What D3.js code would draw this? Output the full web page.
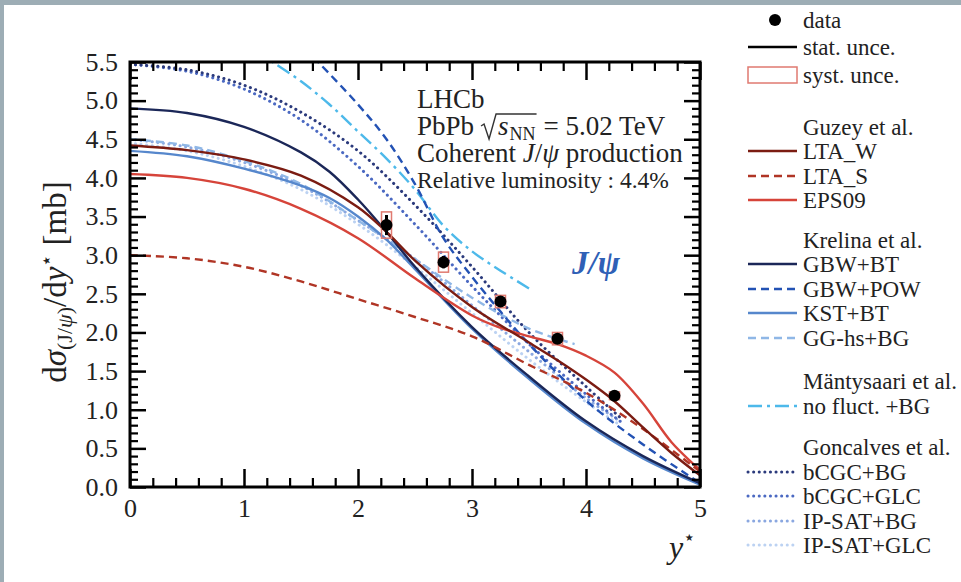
<!DOCTYPE html>
<html>
<head>
<meta charset="utf-8">
<script src="https://cdn.jsdelivr.net/npm/d3@7"></script>
<style>
  body { margin: 0; background: #fff; }
  text { font-family: "Liberation Serif", "Times New Roman", serif; fill: #222; }
</style>
</head>
<body>
<svg width="961" height="582"></svg>
<script>
// LHCb coherent J/psi in PbPb, dsigma/dy* vs y*

const dataX    = [2.25, 2.75, 3.25, 3.75, 4.25];
const dataY    = [3.39, 2.91, 2.40, 1.92, 1.18];
const statErr  = [0.13, 0.08, 0.06, 0.05, 0.05];
const systErr  = [0.17, 0.13, 0.08, 0.08, 0.05];

// model curves, [y*, dsigma/dy*] pairs
const ltaW    = [[0,4.42],[0.5,4.36],[1,4.24],[1.5,4.03],[2,3.62],[2.25,3.3],[2.5,2.93],[3,2.33],[3.5,1.87],[3.75,1.64],[4,1.39],[4.25,1.11],[4.5,0.77],[4.75,0.44],[5,0.15]];
const ltaS    = [[0,3.0],[0.5,2.96],[1,2.85],[1.5,2.66],[2,2.43],[2.5,2.2],[3,1.95],[3.5,1.58],[4,1.22],[4.5,0.75],[5,0.2]];
const eps09   = [[0,4.05],[0.5,4.0],[1,3.86],[1.5,3.6],[2,3.22],[2.5,2.7],[3,2.22],[3.25,2.06],[3.5,1.95],[3.75,1.85],[4,1.7],[4.25,1.48],[4.5,1.08],[4.75,0.58],[5,0.22]];
const gbwBT   = [[0,4.9],[0.5,4.84],[1,4.66],[1.5,4.33],[1.75,4.08],[2,3.72],[2.25,3.3],[2.5,2.85],[3,2.07],[3.5,1.43],[4,0.85],[4.5,0.4],[5,0.05]];
const gbwPOW  = [[1.45,5.8],[1.65,5.5],[2,4.95],[2.25,4.5],[2.5,3.92],[2.75,3.22],[3,2.72],[3.25,2.27],[3.5,1.85],[4,1.12],[4.5,0.55],[5,0.05]];
const kstBT   = [[0,4.35],[0.5,4.28],[1,4.12],[1.5,3.9],[1.75,3.74],[2,3.5],[2.25,3.2],[2.5,2.82],[3,2.05],[3.5,1.4],[4,0.82],[4.5,0.37],[5,0.03]];
const gghsBG  = [[0,4.5],[0.5,4.42],[1,4.22],[1.5,3.92],[2,3.45],[2.5,2.95],[3,2.45],[3.5,2.05],[3.9,1.85]];
const noFluct = [[1.1,5.65],[1.25,5.5],[1.5,5.25],[1.75,4.95],[2,4.6],[2.25,4.25],[2.5,3.85],[2.75,3.38],[3,3.05],[3.25,2.8],[3.5,2.57]];
const bcgcBG  = [[0,5.47],[0.5,5.4],[1,5.2],[1.5,4.85],[2,4.35],[2.5,3.65],[3,2.85],[3.5,2.0],[4,1.3],[4.3,0.9]];
const bcgcGLC = [[0,5.47],[0.5,5.38],[1,5.15],[1.5,4.75],[2,4.15],[2.5,3.4],[3,2.6],[3.5,1.85],[4,1.2],[4.3,0.85]];
const ipsatBG = [[0,4.5],[0.5,4.4],[1,4.2],[1.5,3.9],[2,3.45],[2.5,2.95],[3,2.35],[3.5,1.75],[4,1.15],[4.3,0.85]];
const ipsatGLC= [[0,4.45],[0.5,4.35],[1,4.15],[1.5,3.85],[2,3.4],[2.5,2.85],[3,2.25],[3.5,1.65],[4,1.1],[4.3,0.8]];

const xMajor = [0, 1, 2, 3, 4, 5];
const yMajor = d3.range(12).map(i => i * 0.5);

// line styles
const DASH = '8 5', DOT = '0.1 5.5', DASHDOT = '14 5 3 5';
const models = [
  { name: 'LTA_W',      pts: ltaW,     color: '#7b1c12', dash: null },
  { name: 'LTA_S',      pts: ltaS,     color: '#b03525', dash: DASH },
  { name: 'EPS09',      pts: eps09,    color: '#d6443a', dash: null },
  { name: 'GBW+BT',     pts: gbwBT,    color: '#1b2758', dash: null },
  { name: 'GBW+POW',    pts: gbwPOW,   color: '#2352b4', dash: DASH },
  { name: 'KST+BT',     pts: kstBT,    color: '#5687cc', dash: null },
  { name: 'GG-hs+BG',   pts: gghsBG,   color: '#8fb7e6', dash: DASH },
  { name: 'no fluct. +BG', pts: noFluct, color: '#4db9ea', dash: DASHDOT },
  { name: 'bCGC+BG',    pts: bcgcBG,   color: '#2b3a7c', dash: DOT },
  { name: 'bCGC+GLC',   pts: bcgcGLC,  color: '#4b69c2', dash: DOT },
  { name: 'IP-SAT+BG',  pts: ipsatBG,  color: '#8aa7e0', dash: DOT },
  { name: 'IP-SAT+GLC', pts: ipsatGLC, color: '#bcd2f2', dash: DOT }
];

const svg = d3.select('svg');

// page background with the grey border strip
svg.append('rect').attr('width', 961).attr('height', 582).attr('fill', '#9dadb5');
svg.append('rect').attr('x', 4).attr('y', 5).attr('width', 957).attr('height', 577).attr('fill', '#fff');

const x = d3.scaleLinear().domain([0, 5]).range([130, 700]);
const y = d3.scaleLinear().domain([0, 5.5]).range([487, 62]);

svg.append('clipPath').attr('id', 'plot')
  .append('rect').attr('x', 130).attr('y', 62).attr('width', 570).attr('height', 425);

const line = d3.line().x(d => x(d[0])).y(d => y(d[1])).curve(d3.curveCatmullRom.alpha(0.5));

// model curves
const curves = svg.append('g').attr('clip-path', 'url(#plot)');
models.slice().reverse().forEach(m => {
  curves.append('path')
    .attr('d', line(m.pts))
    .attr('fill', 'none')
    .attr('stroke', m.color)
    .attr('stroke-width', m.dash === DOT ? 3 : 2.4)
    .attr('stroke-linecap', m.dash === DOT ? 'round' : 'butt')
    .attr('stroke-dasharray', m.dash);
});

// data points
const pts = svg.append('g');
dataX.forEach((dx, i) => {
  pts.append('rect')
    .attr('x', x(dx) - 5).attr('width', 10)
    .attr('y', y(dataY[i] + systErr[i]))
    .attr('height', y(dataY[i] - systErr[i]) - y(dataY[i] + systErr[i]))
    .attr('fill', 'none').attr('stroke', '#e07a70').attr('stroke-width', 1.5);
  pts.append('line')
    .attr('x1', x(dx)).attr('x2', x(dx))
    .attr('y1', y(dataY[i] + statErr[i])).attr('y2', y(dataY[i] - statErr[i]))
    .attr('stroke', '#000').attr('stroke-width', 3);
  pts.append('circle').attr('cx', x(dx)).attr('cy', y(dataY[i])).attr('r', 6).attr('fill', '#000');
});

// axes: ticks on all four sides, pointing inward
const xMinor = d3.range(26).map(i => i * 0.2).filter(v => Math.abs(v - Math.round(v)) > 1e-6);
const yMinor = d3.range(56).map(i => i / 10).filter(v => Math.abs(v * 2 - Math.round(v * 2)) > 1e-6);

function styleAxis(g, w) {
  g.select('.domain').remove();
  g.selectAll('.tick line').attr('stroke', '#000').attr('stroke-width', w);
  g.selectAll('text').attr('font-size', 26).attr('fill', '#333')
    .style('font-family', '"Liberation Serif", serif');
}
svg.append('g').attr('transform', 'translate(0,487)')
  .call(d3.axisBottom(x).tickValues(xMajor).tickSize(-18).tickPadding(12).tickFormat(d3.format('d')))
  .call(g => styleAxis(g, 2.5));
svg.append('g').attr('transform', 'translate(0,487)')
  .call(d3.axisBottom(x).tickValues(xMinor).tickSize(-9).tickFormat(''))
  .call(g => styleAxis(g, 2.2));
svg.append('g').attr('transform', 'translate(0,62)')
  .call(d3.axisTop(x).tickValues(xMajor).tickSize(-18).tickFormat(''))
  .call(g => styleAxis(g, 2.5));
svg.append('g').attr('transform', 'translate(0,62)')
  .call(d3.axisTop(x).tickValues(xMinor).tickSize(-9).tickFormat(''))
  .call(g => styleAxis(g, 2.2));
svg.append('g').attr('transform', 'translate(130,0)')
  .call(d3.axisLeft(y).tickValues(yMajor).tickSize(-16).tickPadding(12).tickFormat(d3.format('.1f')))
  .call(g => styleAxis(g, 2.5));
svg.append('g').attr('transform', 'translate(130,0)')
  .call(d3.axisLeft(y).tickValues(yMinor).tickSize(-8).tickFormat(''))
  .call(g => styleAxis(g, 2.2));
svg.append('g').attr('transform', 'translate(700,0)')
  .call(d3.axisRight(y).tickValues(yMajor).tickSize(-16).tickFormat(''))
  .call(g => styleAxis(g, 2.5));
svg.append('g').attr('transform', 'translate(700,0)')
  .call(d3.axisRight(y).tickValues(yMinor).tickSize(-8).tickFormat(''))
  .call(g => styleAxis(g, 2.2));

svg.append('rect').attr('x', 130).attr('y', 62).attr('width', 570).attr('height', 425)
  .attr('fill', 'none').attr('stroke', '#000').attr('stroke-width', 3);

// axis titles
const yt = svg.append('text')
  .attr('transform', 'translate(66,282) rotate(-90)')
  .attr('text-anchor', 'middle').attr('font-size', 33).attr('fill', '#333');
yt.append('tspan').text('d');
yt.append('tspan').attr('font-style', 'italic').text('σ');
yt.append('tspan').attr('font-size', 22).attr('dy', 6).text('(J/');
yt.append('tspan').attr('font-size', 22).attr('font-style', 'italic').text('ψ');
yt.append('tspan').attr('font-size', 22).text(')');
yt.append('tspan').attr('dy', -6).text('/d');
yt.append('tspan').attr('font-style', 'italic').text('y');
yt.append('tspan').attr('font-size', 20).attr('dy', -13).text('⋆');
yt.append('tspan').attr('dy', 13).text(' [mb]');

const xt = svg.append('text').attr('x', 669).attr('y', 558).attr('font-size', 32).attr('fill', '#333');
xt.append('tspan').attr('font-style', 'italic').text('y');
xt.append('tspan').attr('font-size', 20).attr('dy', -14).text('⋆');

// annotation block
const ann = svg.append('g').attr('font-size', 27).attr('fill', '#333');
ann.append('text').attr('x', 417).attr('y', 108).text('LHCb');

// "PbPb sqrt(s_NN) = 5.02 TeV" built from separate pieces laid side by side
{
  const base = 135;
  let cx = 417;
  const t1 = ann.append('text').attr('x', cx).attr('y', base).text('PbPb');
  cx += t1.node().getComputedTextLength() + 24;              // room for the radical
  const sx = cx;
  const t2 = ann.append('text').attr('x', cx).attr('y', base).attr('font-style', 'italic').text('s');
  cx += t2.node().getComputedTextLength() + 1;
  const t3 = ann.append('text').attr('x', cx).attr('y', base + 5).attr('font-size', 18).text('NN');
  cx += t3.node().getComputedTextLength();
  const ex = cx;
  ann.append('text').attr('x', cx + 8).attr('y', base).text('= 5.02 TeV');
  ann.append('path')
    .attr('d', `M${sx - 17},${base - 9} L${sx - 14},${base - 11} L${sx - 9},${base + 4} L${sx - 2},${base - 21} L${ex + 1},${base - 21}`)
    .attr('fill', 'none').attr('stroke', '#333').attr('stroke-width', 1.4);
}
const co = ann.append('text').attr('x', 417).attr('y', 162);
co.append('tspan').text('Coherent ');
co.append('tspan').attr('font-style', 'italic').text('J');
co.append('tspan').text('/');
co.append('tspan').attr('font-style', 'italic').text('ψ');
co.append('tspan').text(' production');
ann.append('text').attr('x', 417).attr('y', 188).attr('font-size', 23.5).text('Relative luminosity : 4.4%');

svg.append('text').attr('x', 572).attr('y', 274)
  .attr('font-size', 33).attr('font-style', 'italic').attr('font-weight', 'bold')
  .style('fill', '#2f60b6').text('J/ψ');

// legend
const lg = svg.append('g').attr('font-size', 23).attr('fill', '#333');
const lx0 = 748, lx1 = 797, tx = 803;
function legText(yc, s) { lg.append('text').attr('x', tx).attr('y', yc + 8).text(s); }

lg.append('circle').attr('cx', 775).attr('cy', 20).attr('r', 6).attr('fill', '#000');
legText(20, 'data');
lg.append('line').attr('x1', lx0).attr('x2', lx1).attr('y1', 47).attr('y2', 47)
  .attr('stroke', '#000').attr('stroke-width', 2.5);
legText(47, 'stat. unce.');
lg.append('rect').attr('x', lx0).attr('y', 67).attr('width', lx1 - lx0).attr('height', 16)
  .attr('fill', 'none').attr('stroke', '#e07a70').attr('stroke-width', 1.5);
legText(75, 'syst. unce.');

const groups = [
  { title: 'Guzey et al.',      ty: 127, rows: [0, 1, 2],     ys: [151, 176, 200] },
  { title: 'Krelina et al.',    ty: 240, rows: [3, 4, 5, 6],  ys: [264, 289, 313, 338] },
  { title: 'Mäntysaari et al.', ty: 381, rows: [7],           ys: [406] },
  { title: 'Goncalves et al.',  ty: 447, rows: [8, 9, 10, 11], ys: [472, 496, 521, 545] }
];
groups.forEach(gr => {
  legText(gr.ty, gr.title);
  gr.rows.forEach((r, k) => {
    const m = models[r], yc = gr.ys[k];
    lg.append('line').attr('x1', lx0).attr('x2', lx1).attr('y1', yc).attr('y2', yc)
      .attr('stroke', m.color)
      .attr('stroke-width', m.dash === DOT ? 3 : 2.6)
      .attr('stroke-linecap', m.dash === DOT ? 'round' : 'butt')
      .attr('stroke-dasharray', m.dash);
    legText(yc, m.name);
  });
});
</script>
</body>
</html>
